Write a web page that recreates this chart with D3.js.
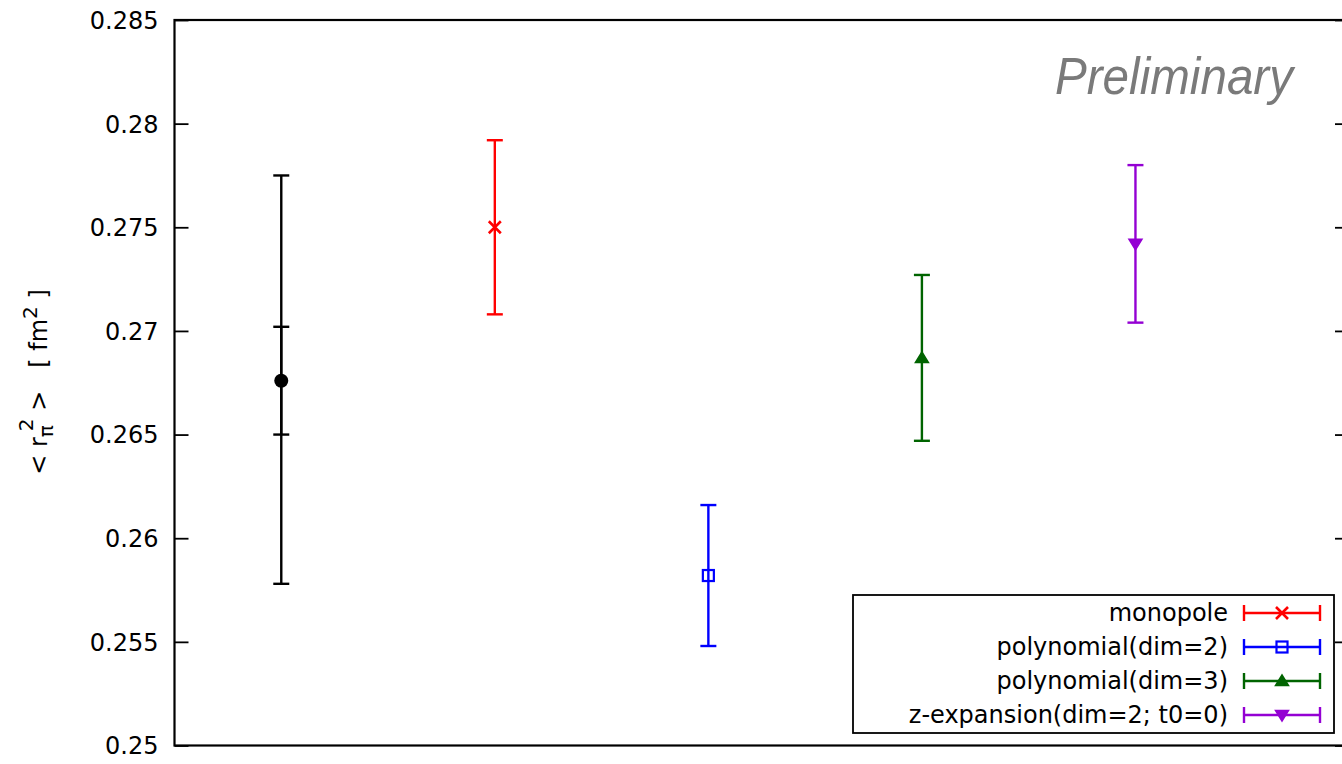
<!DOCTYPE html>
<html><head><meta charset="utf-8">
<script src="https://cdn.jsdelivr.net/npm/d3@7"></script>
<style>body{margin:0;background:#fff}svg{display:block}</style>
</head><body>
<svg id="c" width="1342" height="764"></svg>
<script>
// ---- data ----
const categories = ["lattice", "monopole", "polynomial(dim=2)", "polynomial(dim=3)", "z-expansion(dim=2; t0=0)"];
const xPositions = [1, 2, 3, 4, 5];
const values = [0.2676, 0.2750, 0.2582, 0.2687, 0.2742];
const errLow = [0.2578, 0.2708, 0.2548, 0.2647, 0.2704];
const errHigh = [0.2775, 0.2792, 0.2616, 0.2727, 0.2780];
const innerLow = [0.2650];   // inner (statistical) bar of the black point
const innerHigh = [0.2702];
const colors = ["#000000", "#ff0000", "#0000ff", "#006400", "#9400d3"];
const markers = ["circle", "cross", "square", "triangle", "triangleDown"];
const yTicks = [0.25, 0.255, 0.26, 0.265, 0.27, 0.275, 0.28, 0.285];
const legendIdx = [1, 2, 3, 4];

// ---- layout ----
const svg = d3.select("#c");
const L = 174.5, R = 1349, T = 20, B = 745.5;
const x = d3.scaleLinear().domain([0.5, 6]).range([L, R]);
const y = d3.scaleLinear().domain([0.25, 0.285]).range([B, T]);
const FONT = "'DejaVu Sans', Verdana, sans-serif";
const LW = 2.4;

// axes (ticks inward on left and right)
const yl = d3.axisLeft(y).tickValues(yTicks).tickSize(-14).tickPadding(30)
  .tickFormat(d => d3.format("")(+d.toFixed(3)));
const gL = svg.append("g").attr("transform", `translate(${L},0)`).call(yl);
gL.select(".domain").remove();
gL.selectAll("line").attr("stroke", "#000").attr("stroke-width", 1.8);
gL.selectAll("text").attr("font-family", FONT).attr("font-size", 24).attr("fill", "#000")
  .attr("x", -16).attr("dy", "0.35em");
const yr = d3.axisRight(y).tickValues(yTicks).tickSize(-14).tickFormat("");
const gR = svg.append("g").attr("transform", `translate(${R},0)`).call(yr);
gR.select(".domain").remove();
gR.selectAll("line").attr("stroke", "#000").attr("stroke-width", 1.8);

// frame
svg.append("rect").attr("x", L).attr("y", T).attr("width", R - L).attr("height", B - T)
  .attr("fill", "none").attr("stroke", "#000").attr("stroke-width", 2.2);

// Preliminary
svg.append("text").attr("x", 1293).attr("y", 94).attr("text-anchor", "end")
  .attr("font-family", "'Liberation Sans', Arial, sans-serif").attr("font-style", "italic")
  .attr("font-size", 52).attr("fill", "#7a7a7a")
  .attr("textLength", 238).attr("lengthAdjust", "spacingAndGlyphs")
  .text("Preliminary");

// y label
const yt = svg.append("text").attr("transform", "translate(47,382) rotate(-90)")
  .attr("text-anchor", "middle").attr("font-family", FONT).attr("font-size", 24).attr("fill", "#000");
yt.append("tspan").text("< r");
yt.append("tspan").attr("font-size", 20).attr("dy", 6).text("π");
yt.append("tspan").attr("font-size", 20).attr("dx", -6).attr("dy", -20).text("2");
yt.append("tspan").attr("dy", 14).text("\u00a0>\u00a0\u00a0\u00a0[\u00a0fm");
yt.append("tspan").attr("font-size", 20).attr("dy", -10).text("2");
yt.append("tspan").attr("dy", 10).text("\u00a0]");

// marker drawer
function drawMarker(g, type, cx, cy, color) {
  if (type === "circle") {
    g.append("circle").attr("cx", cx).attr("cy", cy).attr("r", 7).attr("fill", color);
  } else if (type === "cross") {
    const s = 6;
    g.append("path").attr("d", `M${cx - s},${cy - s}L${cx + s},${cy + s}M${cx - s},${cy + s}L${cx + s},${cy - s}`)
      .attr("stroke", color).attr("stroke-width", 2.6).attr("fill", "none");
  } else if (type === "square") {
    g.append("rect").attr("x", cx - 5.5).attr("y", cy - 5.5).attr("width", 11).attr("height", 11)
      .attr("stroke", color).attr("stroke-width", 2.2).attr("fill", "none");
  } else if (type === "triangle") {
    g.append("path").attr("d", `M${cx},${cy - 6}L${cx + 6.5},${cy + 4.5}L${cx - 6.5},${cy + 4.5}Z`)
      .attr("fill", color).attr("stroke", color).attr("stroke-width", 1.5);
  } else if (type === "triangleDown") {
    g.append("path").attr("d", `M${cx},${cy + 6}L${cx + 6.5},${cy - 4.5}L${cx - 6.5},${cy - 4.5}Z`)
      .attr("fill", color).attr("stroke", color).attr("stroke-width", 1.5);
  }
}

function errorBar(g, cx, lo, hi, color) {
  const cap = 8;
  g.append("line").attr("x1", cx).attr("x2", cx).attr("y1", y(lo)).attr("y2", y(hi))
    .attr("stroke", color).attr("stroke-width", LW);
  [lo, hi].forEach(v => g.append("line").attr("x1", cx - cap).attr("x2", cx + cap)
    .attr("y1", y(v)).attr("y2", y(v)).attr("stroke", color).attr("stroke-width", LW));
}

// points
const pts = svg.append("g");
categories.forEach((c, i) => {
  const cx = x(xPositions[i]);
  errorBar(pts, cx, errLow[i], errHigh[i], colors[i]);
  if (i === 0) errorBar(pts, cx, innerLow[0], innerHigh[0], colors[i]);
  drawMarker(pts, markers[i], cx, y(values[i]), colors[i]);
});

// legend
const lg = svg.append("g");
lg.append("rect").attr("x", 853).attr("y", 595).attr("width", 481).attr("height", 138)
  .attr("fill", "#fff").attr("stroke", "#000").attr("stroke-width", 1.8);
legendIdx.forEach((idx, r) => {
  const cy = 613 + r * 34;
  lg.append("text").attr("x", 1228).attr("y", cy).attr("dy", "0.35em").attr("text-anchor", "end")
    .attr("font-family", FONT).attr("font-size", 24).attr("fill", "#000").text(categories[idx]);
  const col = colors[idx];
  lg.append("line").attr("x1", 1244).attr("x2", 1320).attr("y1", cy).attr("y2", cy)
    .attr("stroke", col).attr("stroke-width", LW);
  [1244, 1320].forEach(xx => lg.append("line").attr("x1", xx).attr("x2", xx)
    .attr("y1", cy - 8).attr("y2", cy + 8).attr("stroke", col).attr("stroke-width", LW));
  drawMarker(lg, markers[idx], 1282, cy, col);
});
</script>
</body></html>
